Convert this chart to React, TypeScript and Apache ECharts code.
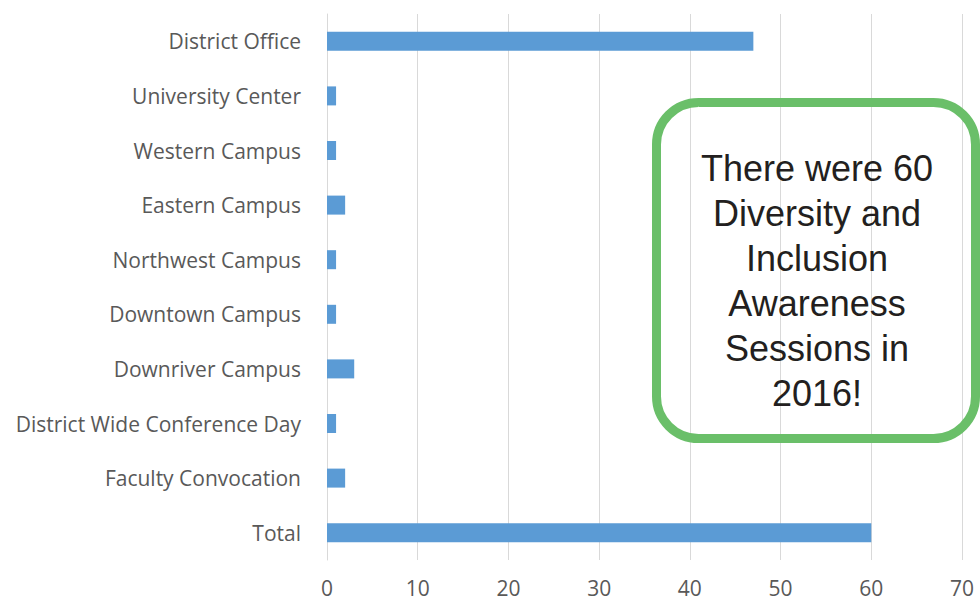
import React, { useEffect, useRef } from "react";
import * as echarts from "echarts";

const categories = [
  "District Office",
  "University Center",
  "Western Campus",
  "Eastern Campus",
  "Northwest Campus",
  "Downtown Campus",
  "Downriver Campus",
  "District Wide Conference Day",
  "Faculty Convocation",
  "Total",
];
const sessions = [47, 1, 1, 2, 1, 1, 3, 1, 2, 60];
const xTicks = { min: 0, max: 70, interval: 10 };
const calloutLines = [
  "There were 60",
  "Diversity and",
  "Inclusion",
  "Awareness",
  "Sessions in",
  "2016!",
];

export default function App() {
  const ref = useRef<HTMLDivElement>(null);
  useEffect(() => {
    if (!ref.current) return;
    const chart = echarts.init(ref.current, null, { renderer: "svg" });
    chart.setOption({
      animation: false,
      backgroundColor: "#ffffff",
      grid: { left: 327, right: 18, top: 14, bottom: 54, containLabel: false },
      xAxis: {
        type: "value",
        min: xTicks.min,
        max: xTicks.max,
        interval: xTicks.interval,
        axisLine: { show: false },
        axisTick: { show: false },
        splitLine: { show: true, lineStyle: { color: "#d9d9d9", width: 1 } },
        axisLabel: {
          color: "#595959",
          fontSize: 21,
          fontFamily: "Open Sans",
          margin: 17,
        },
      },
      yAxis: {
        type: "category",
        data: categories,
        inverse: true,
        axisLine: { show: true, lineStyle: { color: "#d9d9d9" } },
        axisTick: { show: false },
        axisLabel: {
          color: "#595959",
          fontSize: 21,
          fontFamily: "Open Sans",
          margin: 26,
        },
      },
      series: [
        {
          type: "bar",
          data: sessions,
          barWidth: 19,
          itemStyle: { color: "#5B9BD5" },
        },
      ],
      graphic: [
        {
          type: "rect",
          shape: { x: 656.5, y: 102.5, width: 319, height: 336, r: 42 },
          style: { fill: "none", stroke: "#6abf69", lineWidth: 9 },
          z: 100,
        },
        {
          type: "text",
          x: 817,
          y: 281,
          z: 101,
          style: {
            text: calloutLines.join("\n"),
            align: "center",
            verticalAlign: "middle",
            fontSize: 36,
            lineHeight: 45,
            fontFamily: "Liberation Sans",
            fill: "#231f20",
          },
        },
      ],
    });
    return () => chart.dispose();
  }, []);
  return (
    <div
      ref={ref}
      style={{ position: "fixed", left: 0, top: 0, width: 980, height: 614 }}
    />
  );
}
